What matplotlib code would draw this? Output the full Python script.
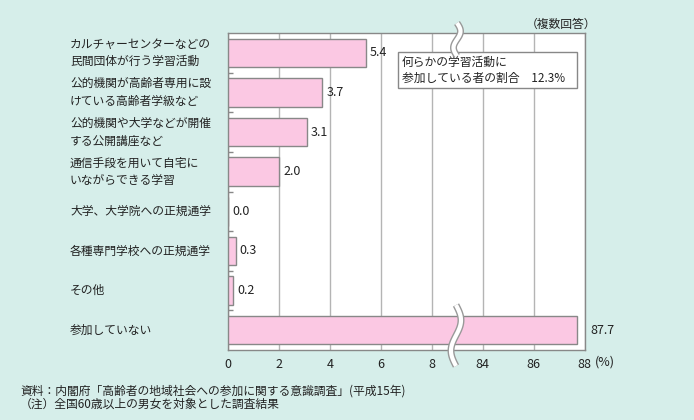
import numpy as np
import matplotlib
matplotlib.use("Agg")
import matplotlib.pyplot as plt
import matplotlib.transforms as mtransforms
from matplotlib.lines import Line2D
from matplotlib.patches import Rectangle

plt.rcParams['font.family'] = ['Noto Sans CJK JP', 'DejaVu Sans']

categories = [
    "カルチャーセンターなどの\n民間団体が行う学習活動",
    "公的機関が高齢者専用に設\nけている高齢者学級など",
    "公的機関や大学などが開催\nする公開講座など",
    "通信手段を用いて自宅に\nいながらできる学習",
    "大学、大学院への正規通学",
    "各種専門学校への正規通学",
    "その他",
    "参加していない",
]
values = [5.4, 3.7, 3.1, 2.0, 0.0, 0.3, 0.2, 87.7]
labels = ["5.4", "3.7", "3.1", "2.0", "0.0", "0.3", "0.2", "87.7"]
xticks = [0, 2, 4, 6, 8, 84, 86, 88]
xticklabels = ["0", "2", "4", "6", "8", "84", "86", "88"]
note_title = "何らかの学習活動に"
note_line2 = "参加している者の割合　12.3%"
source = "資料：内閣府「高齢者の地域社会への参加に関する意識調査」(平成15年)"
footnote = "（注）全国60歳以上の男女を対象とした調査結果"

BG = "#d6eeea"
PINK = "#fbc8e3"
EDGE = "#888888"
GRID = "#b4b4b4"

W, H = 694, 420
fig = plt.figure(figsize=(W / 100, H / 100), dpi=100, facecolor=BG)

def fx(px):
    return px / W

def fy(py):
    return 1 - py / H

ax_l, ax_r, ax_t, ax_b = 228, 584.5, 33, 350
ax = fig.add_axes([fx(ax_l), fy(ax_b), fx(ax_r - ax_l), (ax_b - ax_t) / H])
ax.set_facecolor("white")

BREAK_LO, BREAK_HI = 8.9, 82.9
SHIFT = BREAK_HI - BREAK_LO

def fwd(x):
    x = np.asarray(x, dtype=float)
    return np.where(x <= BREAK_LO, x, np.where(x >= BREAK_HI, x - SHIFT, BREAK_LO))

def inv(y):
    y = np.asarray(y, dtype=float)
    return np.where(y <= BREAK_LO, y, y + SHIFT)

ax.set_xscale('function', functions=(fwd, inv))
ax.set_xlim(0, 88)
n = len(categories)
ypos = np.arange(n)
ax.set_ylim(n - 0.5, -0.5)

ax.barh(ypos, values, height=0.72, color=PINK, edgecolor=EDGE, linewidth=1.0, zorder=3)

for y, v, lab in zip(ypos, values, labels):
    off = 10 if v > 50 else 3
    ax.annotate(lab, xy=(v, y), xytext=(off, 0), textcoords='offset points',
                ha='left', va='center', fontsize=9, color="#222222", zorder=4)

ax.set_xticks(xticks)
ax.set_xticklabels(xticklabels, fontsize=9, color="#222222")
ax.xaxis.set_minor_locator(matplotlib.ticker.NullLocator())
ax.tick_params(axis='x', length=0, pad=6)
ax.grid(axis='x', color=GRID, linewidth=1.0, zorder=0)

ax.set_yticks(np.arange(n - 1) + 0.5)
ax.set_yticklabels([])
ax.tick_params(axis='y', direction='in', length=3.5, color=EDGE, width=1.0)

for s in ax.spines.values():
    s.set_color(EDGE)
    s.set_linewidth(1.0)

trans = mtransforms.blended_transform_factory(fig.transFigure, ax.transData)
for y, c in zip(ypos, categories):
    ax.text(fx(70), y, c, transform=trans, ha='left', va='center',
            fontsize=8.5, linespacing=1.45, color="#222222", clip_on=False)

# note box
rect = Rectangle((fx(398), fy(88)), fx(577 - 398), (88 - 52) / H,
                 transform=fig.transFigure, facecolor='white', edgecolor=EDGE,
                 linewidth=1.0, zorder=5)
fig.patches.append(rect)
fig.text(fx(402), fy(62), note_title, ha='left', va='center', fontsize=8.5, zorder=6, color="#222222")
fig.text(fx(402), fy(78), note_line2, ha='left', va='center', fontsize=8.5, zorder=6, color="#222222")

fig.text(fx(561), fy(24), "（複数回答）", ha='center', va='center', fontsize=8.5, color="#222222")
fig.text(fx(595), fy(362), "(%)", ha='left', va='center', fontsize=9, color="#222222")

fig.text(fx(20), fy(391), source, ha='left', va='center', fontsize=8.5, color="#222222")
fig.text(fx(20), fy(404), footnote, ha='left', va='center', fontsize=8.5, color="#222222")

# break marks
def wave(xc, ytop, ybot, amp):
    t = np.linspace(0, 1, 80)
    xs = xc + amp * np.sin(2 * np.pi * t)
    ys = ytop + (ybot - ytop) * t
    for lw, col in [(5.0, "#999999"), (3.0, "white")]:
        ln = Line2D(fx(xs), fy(ys), transform=fig.transFigure, color=col,
                    linewidth=lw, solid_capstyle='butt', zorder=10)
        fig.lines.append(ln)

wave(457, 23, 56, 3.5)
wave(456, 305, 366, 5)

fig.savefig("out.png", dpi=100, facecolor=BG)
